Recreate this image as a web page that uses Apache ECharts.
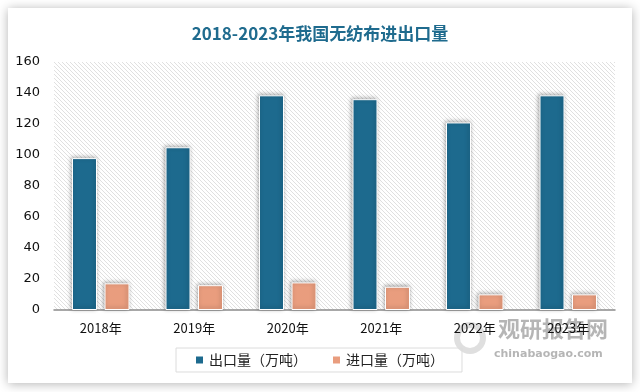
<!DOCTYPE html>
<html><head><meta charset="utf-8">
<script src="https://cdn.jsdelivr.net/npm/echarts@6/dist/echarts.min.js"></script>
<style>html,body{margin:0;padding:0;background:#fff;}#c{width:640px;height:392px;}</style>
</head><body><div id="c"></div>
<script>
const titleText = '2018-2023年我国无纺布进出口量';
const categories = ['2018年','2019年','2020年','2021年','2022年','2023年'];
const exportName = '出口量（万吨）';
const importName = '进口量（万吨）';
const exportValues = [98, 105, 138.5, 136, 121, 138.5];
const importValues = [17.2, 16, 17.8, 15, 10.1, 10.1];

// hatch pattern for plot background
const pc = document.createElement('canvas');
pc.width = 4; pc.height = 4;
const g = pc.getContext('2d');
g.fillStyle = '#ffffff'; g.fillRect(0,0,4,4);
g.strokeStyle = '#e0e0e0'; g.lineWidth = 1;
g.beginPath();
g.moveTo(-1,-1); g.lineTo(5,5);
g.moveTo(-1,3); g.lineTo(1,5);
g.moveTo(3,-1); g.lineTo(5,1);
g.stroke();

const chart = echarts.init(document.getElementById('c'), null, {renderer:'canvas'});
const barStyle = (color) => ({
  color: color, borderColor: '#ffffff', borderWidth: 1,
  shadowBlur: 4, shadowColor: 'rgba(0,0,0,0.35)', shadowOffsetX: -1, shadowOffsetY: -1
});
chart.setOption({
  animation: false,
  backgroundColor: '#ffffff',
  graphic: [
    {type:'rect', z:-10, shape:{x:8,y:8,width:624,height:375},
     style:{fill:'#ffffff', shadowBlur:10, shadowColor:'rgba(0,0,0,0.3)', shadowOffsetX:0, shadowOffsetY:1}},
    {type:'text', z:0, left:498, top:318,
     style:{text:'观研报告网', fill:'rgba(120,120,120,0.55)', font:'bold 22px "Noto Sans CJK SC"'}},
    {type:'text', z:0, left:494, top:349,
     style:{text:'chinabaogao.com', fill:'rgba(120,120,120,0.55)', font:'bold 11px "DejaVu Sans"'}},
    {type:'circle', z:0, shape:{cx:470, cy:338, r:13},
     style:{fill:'none', stroke:'rgba(150,150,150,0.3)', lineWidth:6}}
  ],
  title: {
    text: titleText, left: 'center', top: 20,
    textStyle: {color:'#1f6b8e', fontSize:17, fontWeight:'bold', fontFamily:'"Noto Sans CJK SC"'}
  },
  legend: {
    data: [exportName, importName],
    left: 176, top: 348,
    itemWidth: 9, itemHeight: 9, itemGap: 24,
    icon: 'rect',
    padding: [5, 18, 5, 18],
    borderColor: '#dcdcdc', borderWidth: 1,
    textStyle: {fontSize: 14, color:'#222', fontFamily:'"Noto Sans CJK SC"'}
  },
  grid: {
    left: 54, right: 25, top: 62, bottom: 82, show: true,
    backgroundColor: {image: pc, repeat: 'repeat'}, borderWidth: 0
  },
  xAxis: {
    type: 'category', data: categories,
    axisLine: {show:true, lineStyle:{color:'#8c8c8c', width:1.5}},
    axisTick: {show:false},
    axisLabel: {color:'#111', fontSize:13, margin:12, fontFamily:'"Noto Sans CJK SC"'}
  },
  yAxis: {
    type: 'value', min: 0, max: 160, interval: 20,
    axisLine: {show:false}, axisTick:{show:false},
    splitLine: {show:false},
    axisLabel: {color:'#111', fontSize:13, margin:14, fontFamily:'"DejaVu Sans"'}
  },
  series: [
    {name: exportName, type:'bar', data: exportValues, barWidth: 25, barGap: '30%',
     itemStyle: barStyle('#1d6a8e')},
    {name: importName, type:'bar', data: importValues, barWidth: 25, barGap: '30%',
     itemStyle: barStyle('#e99d7e')}
  ]
});
</script></body></html>
